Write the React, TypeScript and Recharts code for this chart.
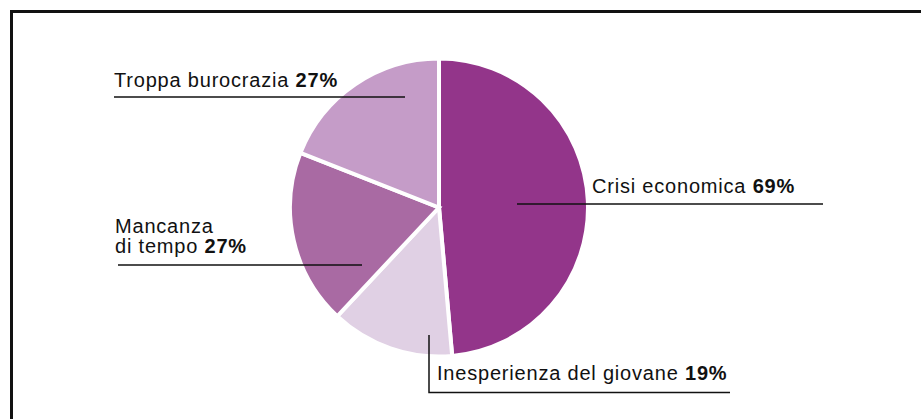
import { PieChart, Pie, Cell } from "recharts"

const categories = ["Crisi economica", "Inesperienza del giovane", "Mancanza di tempo", "Troppa burocrazia"]
const values = [69, 19, 27, 27]
const colors = ["#93358a", "#e0d0e4", "#a96aa3", "#c59cc8"]

// label placement, offsets from the pie centre
const labelLayout = [
  { tx: 153, ty: -14.5, wrap: false, path: "M 78 -3.5 H 384" },
  { tx: -2, ty: 172.5, wrap: false, path: "M -10 127.5 V 185 H 291" },
  { tx: -324, ty: 25.2, wrap: true, path: "M -321 57.5 H -77" },
  { tx: -325, ty: -120.8, wrap: false, path: "M -325 -110.5 H -34" },
]

const data = categories.map((name, i) => ({ name, value: values[i] }))

const W = 921
const H = 419
const font = "'Liberation Sans', Arial, Helvetica, sans-serif"

function renderLabel(props: any) {
  const { cx, cy, index } = props
  const l = labelLayout[index]
  const name = categories[index]
  const pct = `${values[index]}%`
  const x = cx + l.tx
  const y = cy + l.ty
  const sp = name.indexOf(" ")
  return (
    <g key={`lbl-${index}`}>
      <path d={l.path} transform={`translate(${cx},${cy})`} fill="none" stroke="#111" strokeWidth={1.5} />
      {l.wrap ? (
        <text x={x} y={y} fontSize={20} fontFamily={font} letterSpacing={0.8} fill="#111">
          <tspan x={x}>{name.slice(0, sp)}</tspan>
          <tspan x={x} dy={20.3}>{name.slice(sp + 1)} </tspan>
          <tspan fontWeight="bold">{pct}</tspan>
        </text>
      ) : (
        <text x={x} y={y} fontSize={20} fontFamily={font} letterSpacing={0.8} fill="#111">
          {name} <tspan fontWeight="bold">{pct}</tspan>
        </text>
      )}
    </g>
  )
}

export default function App() {
  return (
    <div style={{ position: "absolute", left: 0, top: 0, width: W, height: H, background: "#fff", overflow: "hidden" }}>
      <div
        style={{
          position: "absolute",
          left: 10,
          top: 10,
          width: W - 10,
          height: H,
          borderLeft: "3px solid #111",
          borderTop: "3px solid #111",
        }}
      />
      <div style={{ position: "absolute", left: 0, top: 0 }}>
        <PieChart width={W} height={H} margin={{ top: 0, right: 0, bottom: 0, left: 0 }}>
          <Pie
            data={data}
            dataKey="value"
            nameKey="name"
            cx={439}
            cy={207.5}
            outerRadius={149}
            startAngle={90}
            endAngle={-270}
            stroke="#fff"
            strokeWidth={4}
            label={renderLabel}
            labelLine={false}
            isAnimationActive={false}
          >
            {data.map((d, i) => (
              <Cell key={d.name} fill={colors[i]} />
            ))}
          </Pie>
        </PieChart>
      </div>
    </div>
  )
}
